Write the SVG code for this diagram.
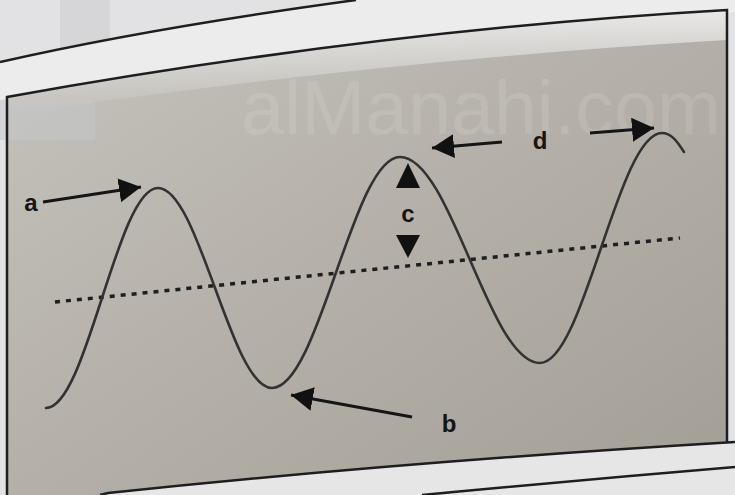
<svg xmlns="http://www.w3.org/2000/svg" width="735" height="495" viewBox="0 0 735 495">
  <defs>
    <linearGradient id="panelGrad" x1="0" y1="0" x2="1" y2="1">
      <stop offset="0" stop-color="#c6c3bd"/>
      <stop offset="0.45" stop-color="#b6b2ab"/>
      <stop offset="1" stop-color="#a39e95"/>
    </linearGradient>
    <linearGradient id="topGlow" x1="0" y1="0" x2="0" y2="1">
      <stop offset="0" stop-color="#f2f2f2" stop-opacity="0.85"/>
      <stop offset="1" stop-color="#f2f2f2" stop-opacity="0"/>
    </linearGradient>
    <marker id="head" markerUnits="userSpaceOnUse" markerWidth="24" markerHeight="24" refX="22" refY="12" orient="auto">
      <path d="M0,0 L22,12 L0,24 Z" fill="#111"/>
    </marker>
    <style>
      .edge { fill: none; stroke: #1e1e1e; stroke-width: 2.5; }
      .wave { fill: none; stroke: #323232; stroke-width: 2.6; stroke-linecap: round; }
      .mid { fill: none; stroke: #1e1e1e; stroke-width: 3.5; stroke-dasharray: 5 6; }
      .arrow { fill: none; stroke: #151515; stroke-width: 3; marker-end: url(#head); }
      .tri { fill: #111; }
      .lbl { font-family: "Liberation Sans", Arial, sans-serif; font-weight: bold; font-size: 24px; fill: #151515; text-anchor: middle; }
      .wm { font-family: "Liberation Sans", Arial, sans-serif; font-size: 76px; fill: #ffffff; fill-opacity: 0.11; }
    </style>
  </defs>

  <!-- background paper -->
  <rect x="0" y="0" width="735" height="495" fill="#e2e2e4"/>
  <rect x="60" y="0" width="50" height="140" fill="#cfcfd1" opacity="0.6"/>
  <path d="M0,62 Q150,28 356,0 L735,0 L735,12 Q400,40 9,97 L0,100 Z" fill="#ececec"/>
  <path class="edge" d="M0,62 Q150,28 356,0"/>

  <!-- panel -->
  <path d="M7,97 Q380,30 727,10 L727,442 Q400,462 108,493 L100,495 L7,495 Z" fill="url(#panelGrad)"/>
  <path d="M7,97 Q380,30 727,10 L727,40 Q380,60 7,115 Z" fill="url(#topGlow)"/>
  <rect x="0" y="100" width="95" height="40" fill="#c4c8cc" opacity="0.5"/>
  <path class="edge" d="M7,495 L7,97 Q380,30 727,10 L727,442"/>
  <path d="M100,495 L108,493 Q400,462 735,442 L735,495 Z" fill="#e6e6e6"/>
  <path class="edge" d="M100,495 L108,493 Q400,462 735,442"/>
  <path class="edge" d="M422,495 Q580,480 735,467"/>

  <text class="wm" x="241" y="134" textLength="480" lengthAdjust="spacingAndGlyphs">alManahi.com</text>

  <g id="midline">
    <path class="mid" d="M55,302 L680,238"/>
  </g>

  <g id="wave">
    <path class="wave" d="M46,408 C87,408 117,188 158,188 C199,188 231,388 272,388 C319,388 353,157 400,157 C451,157 489,363 540,363 C584,363 618,133 662,133 C671,133 677,141 684,152"/>
  </g>

  <g id="connectors">
    <path class="arrow" d="M43,202 L141,187"/>
    <path class="arrow" d="M412,417 L291,395"/>
    <path class="arrow" d="M502,142 L432,148"/>
    <path class="arrow" d="M590,133 L654,128"/>
  </g>

  <g id="node-a"><text class="lbl" x="31" y="211">a</text></g>
  <g id="node-b"><text class="lbl" x="449" y="432">b</text></g>
  <g id="node-c">
    <polygon class="tri" points="408,163 420,188 396,188"/>
    <text class="lbl" x="408" y="222">c</text>
    <polygon class="tri" points="396,235 420,235 408,258"/>
  </g>
  <g id="node-d"><text class="lbl" x="540" y="149">d</text></g>
</svg>
